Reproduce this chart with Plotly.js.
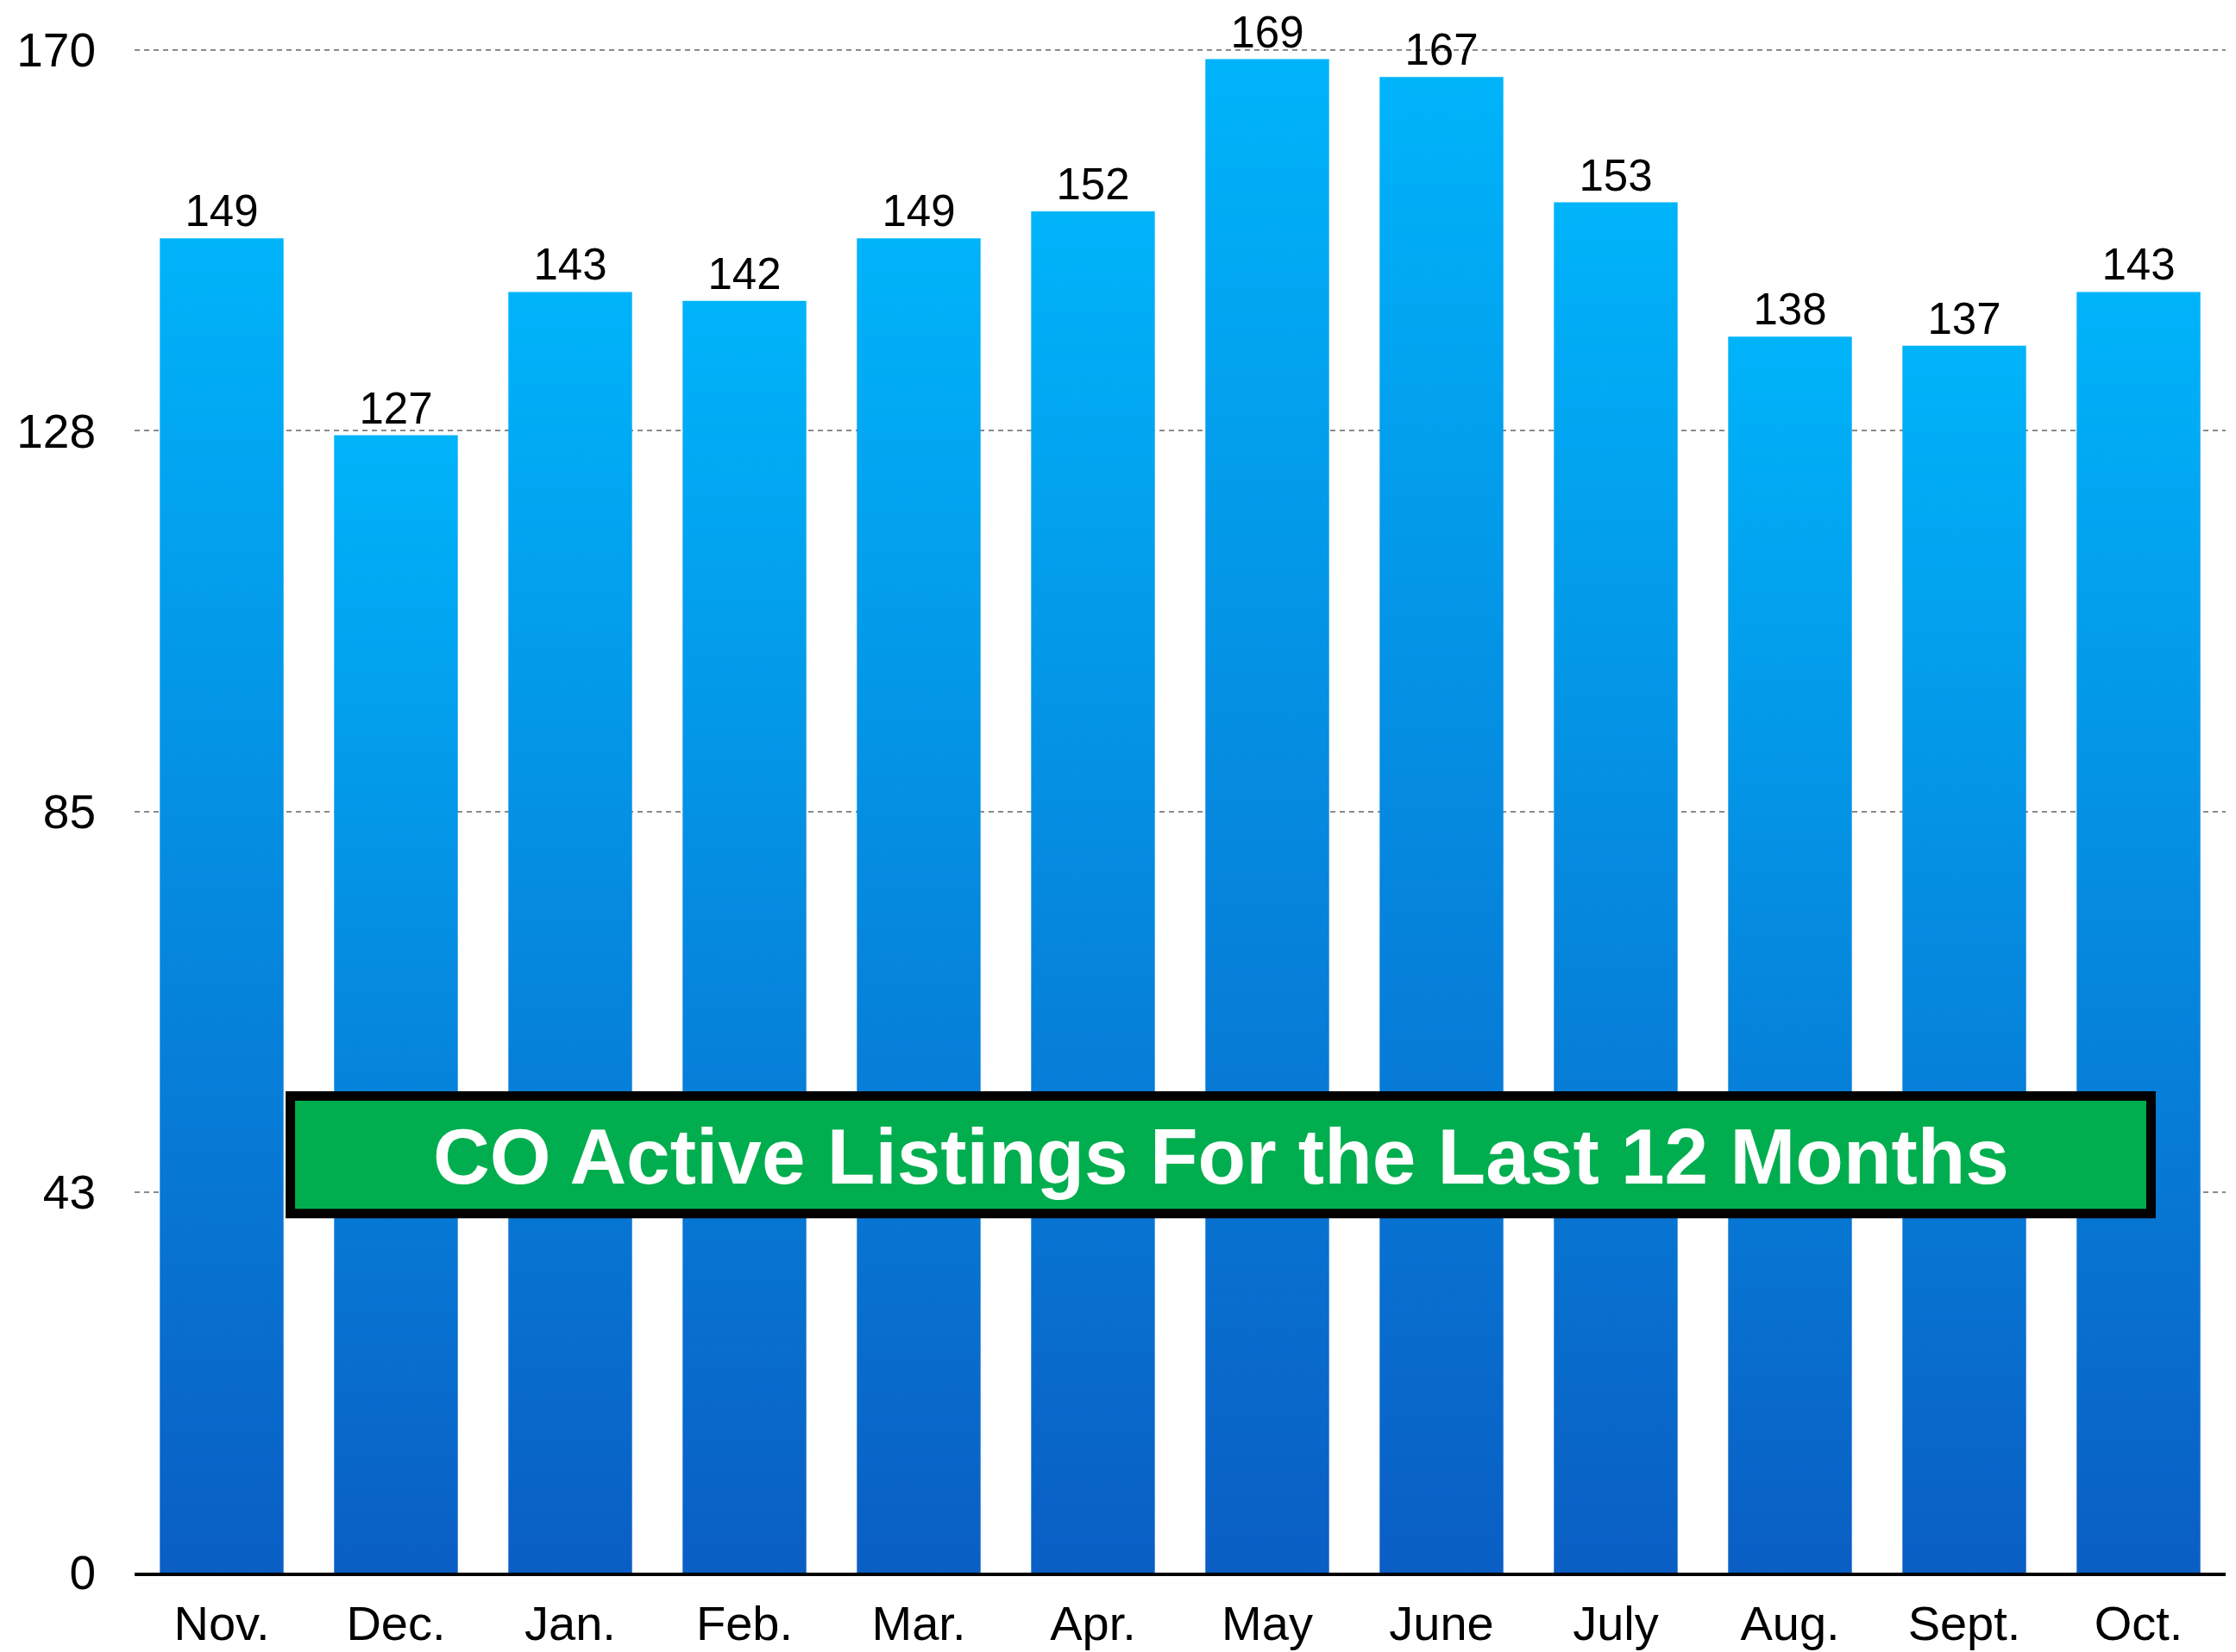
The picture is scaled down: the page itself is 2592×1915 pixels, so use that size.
<!DOCTYPE html>
<html>
<head>
<meta charset="utf-8">
<script src="https://cdn.plot.ly/plotly-3.0.1.min.js"></script>
<style>html,body{margin:0;padding:0;background:#fff;}</style>
</head>
<body>
<div id="chart" style="width:2592px;height:1915px;"></div>
<script>
const months = ["Nov.", "Dec.", "Jan.", "Feb.", "Mar.", "Apr.", "May", "June", "July", "Aug.", "Sept.", "Oct."];
const listings = [149, 127, 143, 142, 149, 152, 169, 167, 153, 138, 137, 143];
const yTickVals = [0, 42.5, 85, 127.5, 170];
const yTickText = ["0", "43", "85", "128", "170"];
const chartTitle = "CO Active Listings For the Last 12 Months";

const FONT = "Liberation Sans, Arial, Helvetica, sans-serif";

const trace = {
  type: "bar",
  x: months,
  y: listings,
  marker: {color: "#0588dc", line: {width: 0}},
  text: listings.map(String),
  textposition: "outside",
  textfont: {family: FONT, size: 51, color: "#000"},
  constraintext: "none",
  cliponaxis: false,
  hoverinfo: "skip"
};

const layout = {
  width: 2592,
  height: 1915,
  margin: {l: 156, r: 12, t: 55, b: 92},
  paper_bgcolor: "#fff",
  plot_bgcolor: "#fff",
  showlegend: false,
  bargap: 0.29,
  font: {family: FONT, color: "#000"},
  xaxis: {
    type: "category",
    showgrid: false,
    showline: true,
    linecolor: "#000",
    linewidth: 4,
    ticks: "",
    tickfont: {family: FONT, size: 56, color: "#000"},
    ticklabelstandoff: 7,
    fixedrange: true
  },
  yaxis: {
    range: [0, 170.3],
    tickvals: yTickVals,
    ticktext: yTickText,
    showgrid: true,
    gridcolor: "#8a8a8a",
    gridwidth: 2,
    griddash: "6px,5px",
    zeroline: false,
    showline: false,
    ticks: "",
    tickfont: {family: FONT, size: 55, color: "#000"},
    ticklabelstandoff: 44,
    fixedrange: true
  },
  shapes: [{
    type: "rect",
    xref: "paper", yref: "paper",
    x0: 0.0745, x1: 0.9643, y0: 0.2354, y1: 0.3125,
    fillcolor: "#00ae4f",
    line: {color: "#000", width: 11},
    layer: "above"
  }],
  annotations: [{
    xref: "paper", yref: "paper",
    x: 0.5194, y: 0.273,
    xanchor: "center", yanchor: "middle",
    text: "<b>" + chartTitle + "</b>",
    showarrow: false,
    font: {family: FONT, size: 91, color: "#fff"}
  }]
};

Plotly.newPlot("chart", [trace], layout, {displayModeBar: false, staticPlot: true}).then(function (gd) {
  const svgNS = "http://www.w3.org/2000/svg";
  const svg = gd.querySelector(".main-svg");
  let defs = svg.querySelector("defs");
  if (!defs) { defs = document.createElementNS(svgNS, "defs"); svg.insertBefore(defs, svg.firstChild); }
  const grad = document.createElementNS(svgNS, "linearGradient");
  grad.setAttribute("id", "barGrad");
  grad.setAttribute("x1", "0"); grad.setAttribute("y1", "0");
  grad.setAttribute("x2", "0"); grad.setAttribute("y2", "1");
  [["0", "#00b4fa"], ["1", "#0a5ec4"]].forEach(function (s) {
    const st = document.createElementNS(svgNS, "stop");
    st.setAttribute("offset", s[0]);
    st.setAttribute("stop-color", s[1]);
    grad.appendChild(st);
  });
  defs.appendChild(grad);
  gd.querySelectorAll(".bars .point path").forEach(function (p) {
    p.style.fill = "url(#barGrad)";
  });
});
</script>
</body>
</html>
